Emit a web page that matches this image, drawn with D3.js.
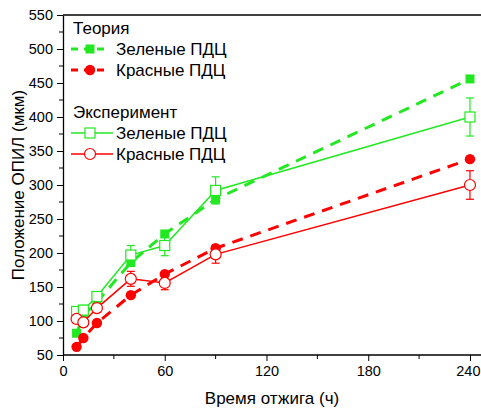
<!DOCTYPE html>
<html>
<head>
<meta charset="utf-8">
<script src="https://cdn.jsdelivr.net/npm/d3@7"></script>
<style>
  body { margin: 0; background: #fff; }
  svg { font-family: "Liberation Sans", Arial, sans-serif; }
</style>
</head>
<body>
<svg id="chart" width="481" height="410"></svg>
<script>
// annealing time (h)
const hours = [8, 12, 20, 40, 60, 90, 240];
// theory
const greenTheory = [82, 108, 128, 186, 228, 279, 456];
const redTheory = [62, 75, 97, 138, 169, 207, 338];
// experiment
const greenExp = [114, 116, 136, 197, 211, 292, 400];
const greenErr = [6, 7, 7, 14, 15, 20, 28];
const redExp = [103, 98, 119, 162, 156, 198, 300];
const redErr = [6, 6, 6, 11, 10, 13, 21];

const xTicks = [0, 60, 120, 180, 240];
const yTicks = [50, 100, 150, 200, 250, 300, 350, 400, 450, 500, 550];

const GREEN = "#22e822";
const RED = "#ff0000";

const svg = d3.select("svg#chart");
const margin = {left: 63, right: 0, top: 15, bottom: 55};
const width = 481, height = 410;

const x = d3.scaleLinear().domain([0, 246.5]).range([margin.left, width - margin.right]);
const y = d3.scaleLinear().domain([50, 550]).range([height - margin.bottom, margin.top]);

// frame top line
svg.append("line")
   .attr("x1", margin.left).attr("x2", width)
   .attr("y1", margin.top).attr("y2", margin.top)
   .attr("stroke", "#000").attr("stroke-width", 1.3);

// minor ticks
const xMinor = [30, 90, 150, 210];
const yMinor = d3.range(75, 550, 50);

const gx = svg.append("g").attr("transform", `translate(0,${y(50)})`);
gx.call(d3.axisBottom(x).tickValues(xTicks).tickSize(6).tickSizeOuter(0).tickPadding(5));
gx.append("g").selectAll("line").data(xMinor).join("line")
  .attr("x1", d => x(d)).attr("x2", d => x(d)).attr("y1", 0).attr("y2", 4)
  .attr("stroke", "#000");

const gy = svg.append("g").attr("transform", `translate(${margin.left},0)`);
gy.call(d3.axisLeft(y).tickValues(yTicks).tickSize(6).tickSizeOuter(0).tickPadding(4));
gy.append("g").selectAll("line").data(yMinor).join("line")
  .attr("x1", 0).attr("x2", -4).attr("y1", d => y(d)).attr("y2", d => y(d))
  .attr("stroke", "#000");

[gx, gy].forEach(g => {
  g.select(".domain").attr("stroke-width", 1.3);
  g.selectAll("text").attr("font-size", 14.5).attr("fill", "#000")
   .attr("font-family", "'Liberation Sans', Arial, sans-serif");
});
gx.selectAll(".domain").attr("d", `M${x(0)},0H${width}`);
// last x label sits against the right edge, as in the original
gx.selectAll(".tick text").filter(d => d === 240).attr("text-anchor", "end").attr("x", 480 - x(240));

// axis titles
svg.append("text")
   .attr("x", (margin.left + width) / 2).attr("y", 404)
   .attr("text-anchor", "middle").attr("font-size", 17)
   .text("Время отжига (ч)");
svg.append("text")
   .attr("transform", `translate(24,${(y(50) + y(550)) / 2}) rotate(-90)`)
   .attr("text-anchor", "middle").attr("font-size", 17)
   .text("Положение ОПИЛ (мкм)");

const line = d3.line().x(d => x(d[0])).y(d => y(d[1]));
const plot = svg.append("g");

function series(vals, color, dashed, marker, err) {
  const pts = hours.map((h, i) => [h, vals[i]]);
  plot.append("path").datum(pts)
      .attr("d", line)
      .attr("fill", "none")
      .attr("stroke", color)
      .attr("stroke-width", dashed ? 3 : 1.5)
      .attr("stroke-dasharray", dashed ? "11,8" : null);
  if (err) {
    const eb = plot.append("g").attr("stroke", color).attr("stroke-width", 1.2);
    pts.forEach((p, i) => {
      const cx = x(p[0]), top = y(p[1] + err[i]), bot = y(p[1] - err[i]);
      eb.append("line").attr("x1", cx).attr("x2", cx).attr("y1", top).attr("y2", bot);
      eb.append("line").attr("x1", cx - 4).attr("x2", cx + 4).attr("y1", top).attr("y2", top);
      eb.append("line").attr("x1", cx - 4).attr("x2", cx + 4).attr("y1", bot).attr("y2", bot);
    });
  }
  pts.forEach(p => drawMarker(plot, x(p[0]), y(p[1]), color, marker));
}

function drawMarker(g, cx, cy, color, marker) {
  if (marker === "fsq") {
    g.append("rect").attr("x", cx - 4.5).attr("y", cy - 4.5).attr("width", 9).attr("height", 9)
     .attr("fill", color);
  } else if (marker === "fci") {
    g.append("circle").attr("cx", cx).attr("cy", cy).attr("r", 5.2).attr("fill", color);
  } else if (marker === "osq") {
    g.append("rect").attr("x", cx - 5).attr("y", cy - 5).attr("width", 10).attr("height", 10)
     .attr("fill", "#fff").attr("stroke", color).attr("stroke-width", 1.2);
  } else {
    g.append("circle").attr("cx", cx).attr("cy", cy).attr("r", 5.5)
     .attr("fill", "#fff").attr("stroke", color).attr("stroke-width", 1.2);
  }
}

series(greenTheory, GREEN, true, "fsq");
series(redTheory, RED, true, "fci");
series(greenExp, GREEN, false, "osq", greenErr);
series(redExp, RED, false, "oci", redErr);

// legend
const legend = svg.append("g").attr("font-size", 17);
const legendRows = [
  {type: "title", text: "Теория", y: 28},
  {text: "Зеленые ПДЦ", color: GREEN, dashed: true, marker: "fsq", y: 49},
  {text: "Красные ПДЦ", color: RED, dashed: true, marker: "fci", y: 70},
  {type: "title", text: "Эксперимент", y: 112},
  {text: "Зеленые ПДЦ", color: GREEN, dashed: false, marker: "osq", y: 133},
  {text: "Красные ПДЦ", color: RED, dashed: false, marker: "oci", y: 154}
];
legendRows.forEach(r => {
  if (r.type === "title") {
    legend.append("text").attr("x", 73).attr("y", r.y).attr("dy", "0.35em").text(r.text);
    return;
  }
  legend.append("line").attr("x1", 71).attr("x2", r.dashed ? 104 : 113).attr("y1", r.y).attr("y2", r.y)
        .attr("stroke", r.color).attr("stroke-width", r.dashed ? 3 : 1.5)
        .attr("stroke-dasharray", r.dashed ? "7,6" : null);
  drawMarker(legend, 90, r.y, r.color, r.marker);
  legend.append("text").attr("x", 116).attr("y", r.y).attr("dy", "0.35em").text(r.text);
});
</script>
</body>
</html>
